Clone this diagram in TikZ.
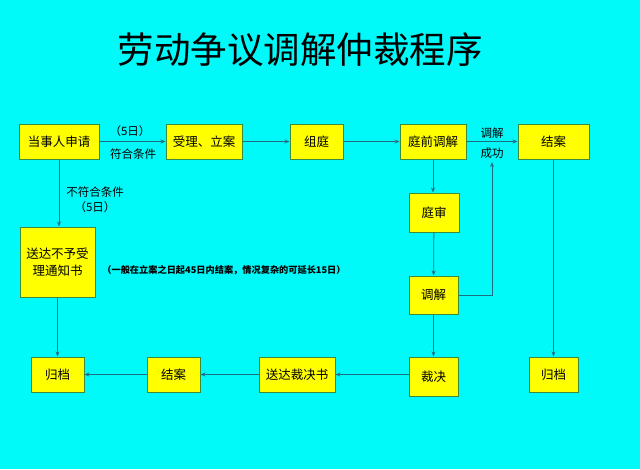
\documentclass[tikz,border=0pt]{standalone}
\usepackage{fontspec}
\setmainfont{Noto Sans CJK SC}
\usetikzlibrary{arrows.meta}

\definecolor{bgcyan}{RGB}{0,250,250}
\definecolor{boxyellow}{RGB}{255,255,0}
\definecolor{boxline}{RGB}{60,140,60}
\definecolor{flowline}{RGB}{30,110,130}

\tikzset{
  stepbox/.style={draw=boxline, line width=1pt, fill=boxyellow, inner sep=0pt,
    align=center, font=\fontsize{12.5}{17}\selectfont},
  flow/.style={draw=flowline, line width=0.8pt, -{Stealth[length=5pt,width=4pt]}},
  lbl/.style={font=\fontsize{11.5}{14}\selectfont, inner sep=0pt}
}

\begin{document}
\begin{tikzpicture}[x=1pt,y=-1pt]
  \fill[bgcyan] (0,0) rectangle (640,469);
  \useasboundingbox (0,0) rectangle (640,469);

  \node[font=\fontsize{36.5}{40}\selectfont] (title) at (300,50) {劳动争议调解仲裁程序};

  % top row
  \node[stepbox, minimum width=80pt, minimum height=35pt] (shen) at (59,141.5) {当事人申请};
  \node[stepbox, minimum width=76pt, minimum height=35pt] (shou) at (204,141.5) {受理、立案};
  \node[stepbox, minimum width=53pt, minimum height=35pt] (zu) at (316.5,141.5) {组庭};
  \node[stepbox, minimum width=66pt, minimum height=35pt] (tq) at (433,141.5) {庭前调解};
  \node[stepbox, minimum width=71pt, minimum height=35pt] (ja1) at (553.5,141.5) {结案};

  % middle
  \node[stepbox, minimum width=75pt, minimum height=70pt] (bsl) at (57.5,262) {送达不予受\\理通知书};
  \node[stepbox, minimum width=50pt, minimum height=39pt] (ts) at (434,212.5) {庭审};
  \node[stepbox, minimum width=49pt, minimum height=38pt] (tj) at (433.5,295) {调解};

  % bottom row
  \node[stepbox, minimum width=49pt, minimum height=39pt] (cj) at (433.5,376.5) {裁决};
  \node[stepbox, minimum width=76pt, minimum height=35pt] (sd) at (297,374.5) {送达裁决书};
  \node[stepbox, minimum width=53pt, minimum height=35pt] (ja2) at (173.5,374.5) {结案};
  \node[stepbox, minimum width=53pt, minimum height=35pt] (gd1) at (57.5,374.5) {归档};
  \node[stepbox, minimum width=49pt, minimum height=35pt] (gd2) at (553.5,374.5) {归档};

  \coordinate (cg) at (492,162);

  \draw[flow] (shen) -- (shou);
  \draw[flow] (shou) -- (zu);
  \draw[flow] (zu) -- (tq);
  \draw[flow] (tq) -- (ja1);
  \draw[flow] (shen.south) -- (shen.south |- bsl.north);
  \draw[flow] (bsl.south) -- (bsl.south |- gd1.north);
  \draw[flow] (tq.south) -- (tq.south |- ts.north);
  \draw[flow] (ts) -- (tj);
  \draw[flow] (tj) -- (cj);
  \draw[flow] (tj.east) -| (cg);
  \draw[flow] (ja1) -- (gd2);
  \draw[flow] (cj.west |- sd.east) -- (sd.east);
  \draw[flow] (sd) -- (ja2);
  \draw[flow] (ja2) -- (gd1);

  \node[lbl] (t5a) at (130,131) {（5日）};
  \node[lbl] (fh) at (133,154) {符合条件};
  \node[lbl] (tjl) at (492,133) {调解};
  \node[lbl] (cgl) at (492,153) {成功};
  \node[lbl] (bfh) at (95,192) {不符合条件};
  \node[lbl] (t5b) at (95,207) {（5日）};
  \node[font=\bfseries\fontsize{9.2}{11}\selectfont, inner sep=0pt] (note) at (224,270)
    {（一般在立案之日起45日内结案，情况复杂的可延长15日）};
\end{tikzpicture}
\end{document}
